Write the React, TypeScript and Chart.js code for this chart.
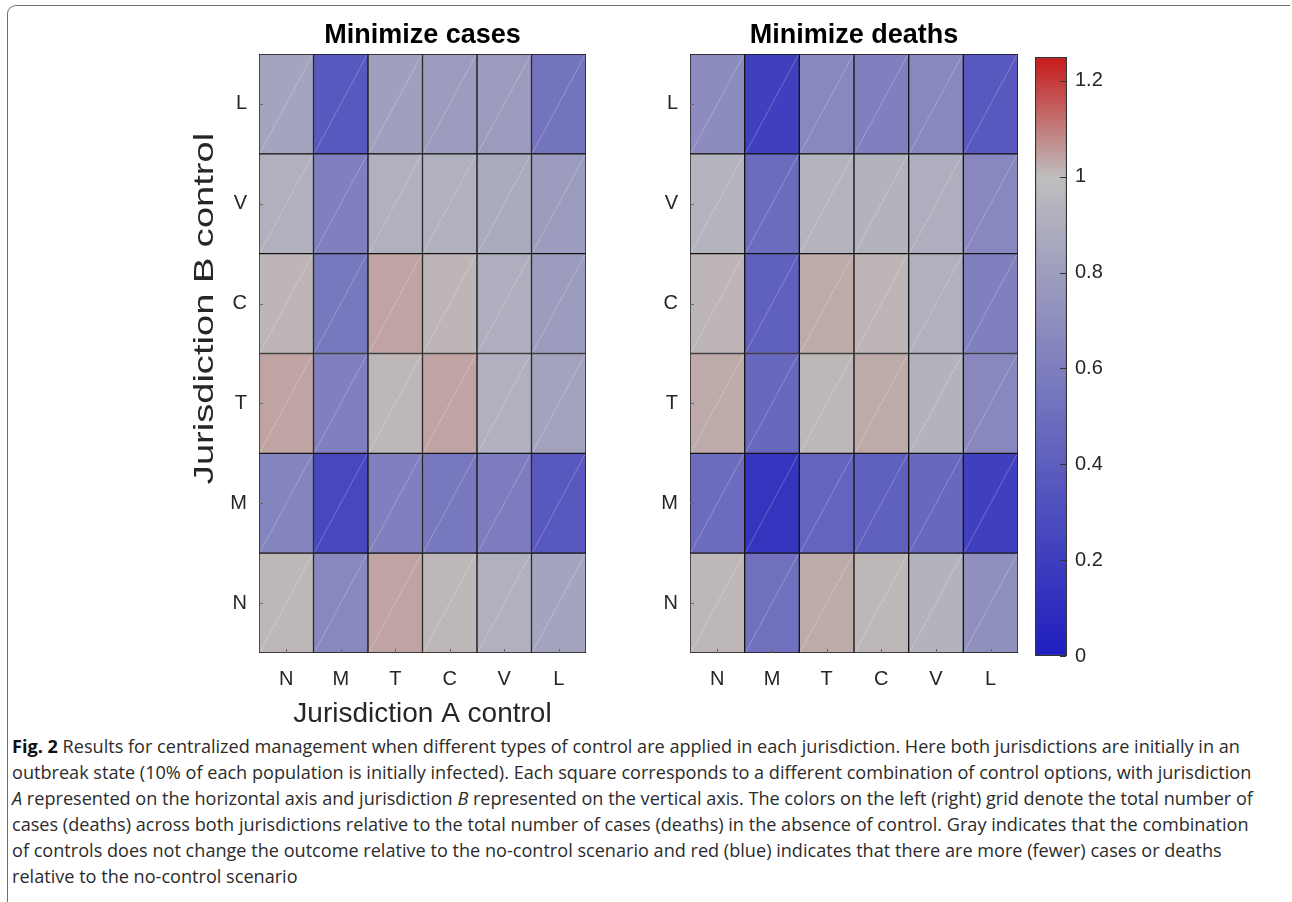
import React, { useEffect, useLayoutEffect, useRef } from 'react';
import { Chart, registerables } from 'chart.js';

Chart.register(...registerables);

// ---------------- data ----------------
const colLabels = ['N', 'M', 'T', 'C', 'V', 'L']; // jurisdiction A control (x)
const rowLabels = ['N', 'M', 'T', 'C', 'V', 'L']; // jurisdiction B control (y, bottom -> top)

// relative cases, rows bottom (N) -> top (L), columns N..L
const casesN = [1.01, 0.66, 1.04, 1.01, 0.91, 0.84];
const casesM = [0.64, 0.26, 0.61, 0.56, 0.59, 0.36];
const casesT = [1.04, 0.61, 1.01, 1.04, 0.91, 0.83];
const casesC = [1.012, 0.56, 1.04, 1.012, 0.9, 0.79];
const casesV = [0.91, 0.61, 0.91, 0.91, 0.88, 0.79];
const casesL = [0.84, 0.36, 0.81, 0.79, 0.78, 0.54];
const casesValues = [casesN, casesM, casesT, casesC, casesV, casesL];

// relative deaths
const deathsN = [1.01, 0.51, 1.03, 1.01, 0.93, 0.71];
const deathsM = [0.49, 0.14, 0.44, 0.41, 0.46, 0.21];
const deathsT = [1.03, 0.46, 1.01, 1.03, 0.93, 0.66];
const deathsC = [1.012, 0.41, 1.03, 1.012, 0.91, 0.61];
const deathsV = [0.94, 0.49, 0.94, 0.93, 0.9, 0.66];
const deathsL = [0.69, 0.21, 0.66, 0.61, 0.66, 0.36];
const deathsValues = [deathsN, deathsM, deathsT, deathsC, deathsV, deathsL];

const colorbarTicks = [0, 0.2, 0.4, 0.6, 0.8, 1, 1.2];
const colorMin = 0;
const colorMid = 1;
const colorMax = 1.25;

const captionLines = [
  [['b', 'Fig. 2'], ['', ' Results for centralized management when different types of control are applied in each jurisdiction. Here both jurisdictions are initially in an']],
  [['', 'outbreak state (10% of each population is initially infected). Each square corresponds to a different combination of control options, with jurisdiction']],
  [['i', 'A'], ['', ' represented on the horizontal axis and jurisdiction '], ['i', 'B'], ['', ' represented on the vertical axis. The colors on the left (right) grid denote the total number of']],
  [['', 'cases (deaths) across both jurisdictions relative to the total number of cases (deaths) in the absence of control. Gray indicates that the combination']],
  [['', 'of controls does not change the outcome relative to the no-control scenario and red (blue) indicates that there are more (fewer) cases or deaths']],
  [['', 'relative to the no-control scenario']],
];

// ---------------- style ----------------
const FONT = "'Liberation Sans', Arial, Helvetica, sans-serif";
const TEXT = '#262626';
const BLUE = [30, 30, 190];
const GRAY = [190, 190, 190];
const RED = [200, 25, 25];
const captionTargetWidths = [1240, 1243, 1246, 1234, 1176, 301];
const captionTop = 733;
const captionLineHeight = 26;

const clamp = (t: number) => Math.max(0, Math.min(1, t));
const mix = (a: number[], b: number[], t: number) => a.map((v, i) => Math.round(v + (b[i] - v) * t));
function colorFor(v: number) {
  const c = v <= colorMid
    ? mix(BLUE, GRAY, clamp((v - colorMin) / (colorMid - colorMin)))
    : mix(GRAY, RED, clamp((v - colorMid) / (colorMax - colorMid)));
  return `rgb(${c[0]},${c[1]},${c[2]})`;
}

// ---------------- plugins ----------------
const cellDiagonals = {
  id: 'cellDiagonals',
  afterDatasetsDraw(chart: any) {
    const ctx = chart.ctx;
    ctx.save();
    ctx.strokeStyle = 'rgba(255,255,255,0.3)';
    ctx.lineWidth = 0.8;
    chart.data.datasets.forEach((_: any, di: number) => {
      chart.getDatasetMeta(di).data.forEach((el: any) => {
        const { x, y, base, width } = el.getProps(['x', 'y', 'base', 'width'], true);
        const l = x - width / 2, r = x + width / 2;
        const t = Math.min(y, base), b = Math.max(y, base);
        ctx.beginPath();
        ctx.moveTo(l + 1, b - 1);
        ctx.lineTo(r - 1, t + 1);
        ctx.stroke();
      });
    });
    ctx.restore();
  },
};

const innerTicks = {
  id: 'innerTicks',
  afterDatasetsDraw(chart: any, _args: any, opts: any) {
    const { ctx, chartArea: a } = chart;
    const len = opts.len || 4;
    ctx.save();
    ctx.strokeStyle = opts.color || '#555';
    ctx.lineWidth = 1;
    ctx.beginPath();
    if (opts.x) {
      const s = chart.scales.x;
      s.ticks.forEach((_: any, i: number) => {
        const p = Math.round(s.getPixelForTick(i)) + 0.5;
        ctx.moveTo(p, a.bottom);
        ctx.lineTo(p, a.bottom - len);
      });
    }
    if (opts.y) {
      const s = chart.scales.y;
      s.ticks.forEach((_: any, i: number) => {
        const p = Math.round(s.getPixelForTick(i)) + 0.5;
        ctx.moveTo(a.left, p);
        ctx.lineTo(a.left + len, p);
      });
    }
    if (opts.yRight) {
      const s = chart.scales.y;
      s.ticks.forEach((_: any, i: number) => {
        const p = Math.round(s.getPixelForTick(i)) + 0.5;
        ctx.moveTo(a.right - 1, p);
        ctx.lineTo(a.right - 1 - len, p);
      });
    }
    ctx.stroke();
    ctx.restore();
  },
};

const stretchedYTitle = {
  id: 'stretchedYTitle',
  afterDraw(chart: any, _args: any, opts: any) {
    if (!opts || !opts.text) return;
    const ctx = chart.ctx;
    const s = chart.scales.y;
    const a = chart.chartArea;
    ctx.save();
    ctx.translate(s.left + opts.dx, (a.top + a.bottom) / 2 + opts.dy);
    ctx.rotate(-Math.PI / 2);
    ctx.scale(opts.stretch, 1);
    ctx.font = `${opts.size}px ${FONT}`;
    ctx.fillStyle = TEXT;
    ctx.textAlign = 'center';
    ctx.textBaseline = 'middle';
    ctx.fillText(opts.text, 0, 0);
    ctx.restore();
  },
};

// ---------------- configs ----------------
function heatmapConfig(values: number[][], title: string, padLeft: number, yWidth: number, padRight: number, withTitles: boolean): any {
  return {
    type: 'bar',
    data: {
      labels: colLabels,
      datasets: rowLabels.map((r, i) => ({
        label: r,
        data: values[i].map(() => [i, i + 1]),
        backgroundColor: values[i].map(colorFor),
        borderColor: '#151515',
        borderWidth: 1,
        borderSkipped: false,
        barPercentage: 1,
        categoryPercentage: 1,
        grouped: false,
      })),
    },
    options: {
      animation: false,
      responsive: false,
      maintainAspectRatio: false,
      events: [],
      layout: { padding: { left: padLeft, right: padRight, top: 0, bottom: 0 } },
      plugins: {
        legend: { display: false },
        tooltip: { enabled: false },
        title: {
          display: true,
          text: title,
          fullSize: false,
          color: '#000',
          font: { family: FONT, size: 27, weight: 'bold' },
          padding: { top: 19, bottom: 2.6 },
        },
        innerTicks: { x: true, y: true, len: 4, color: '#666' },
        stretchedYTitle: withTitles
          ? { text: 'Jurisdiction B control', size: 28, stretch: 1.36, dx: 25, dy: -45 }
          : {},
      },
      scales: {
        x: {
          type: 'category',
          grid: { display: false, drawTicks: false },
          border: { display: false },
          ticks: { color: TEXT, font: { family: FONT, size: 20 }, padding: 14 },
          title: {
            display: withTitles,
            text: 'Jurisdiction A control',
            color: TEXT,
            font: { family: FONT, size: 28 },
            padding: 0,
          },
          afterFit: (s: any) => { s.height = 78; },
        },
        y: {
          type: 'linear',
          min: 0,
          max: rowLabels.length,
          grid: { display: false, drawTicks: false },
          border: { display: false },
          afterBuildTicks: (s: any) => { s.ticks = rowLabels.map((_, i) => ({ value: i + 0.5 })); },
          ticks: {
            autoSkip: false,
            color: TEXT,
            font: { family: FONT, size: 20 },
            padding: 12,
            callback: (v: number) => rowLabels[Math.floor(v)],
          },
          afterFit: (s: any) => { s.width = yWidth; },
        },
      },
    },
    plugins: [cellDiagonals, innerTicks, stretchedYTitle],
  };
}

function colorbarConfig(): any {
  return {
    type: 'bar',
    data: {
      labels: [''],
      datasets: [{
        data: [[colorMin, colorMax]],
        backgroundColor: (c: any) => {
          const chart = c.chart;
          if (!chart.chartArea) return GRAY;
          const ys = chart.scales.y;
          const g = chart.ctx.createLinearGradient(0, ys.getPixelForValue(colorMin), 0, ys.getPixelForValue(colorMax));
          g.addColorStop(0, colorFor(colorMin));
          g.addColorStop((colorMid - colorMin) / (colorMax - colorMin), colorFor(colorMid));
          g.addColorStop(1, colorFor(colorMax));
          return g;
        },
        borderColor: '#333',
        borderWidth: 1.5,
        borderSkipped: false,
        barPercentage: 1,
        categoryPercentage: 1,
      }],
    },
    options: {
      animation: false,
      responsive: false,
      maintainAspectRatio: false,
      events: [],
      layout: { padding: { left: 35, right: 0, top: 57, bottom: 75 } },
      plugins: {
        legend: { display: false },
        tooltip: { enabled: false },
        innerTicks: { yRight: true, len: 6, color: '#333' },
      },
      scales: {
        x: { display: false },
        y: {
          position: 'right',
          min: colorMin,
          max: colorMax,
          grid: { display: false, drawTicks: false },
          border: { display: false },
          afterBuildTicks: (s: any) => { s.ticks = colorbarTicks.map((v) => ({ value: v })); },
          ticks: {
            autoSkip: false,
            color: TEXT,
            font: { family: FONT, size: 20 },
            padding: 8,
            callback: (v: number) => String(v),
          },
          afterFit: (s: any) => { s.width = 83; },
        },
      },
    },
    plugins: [innerTicks],
  };
}

// ---------------- components ----------------
function ChartCanvas({ left, top, width, height, build }: { left: number; top: number; width: number; height: number; build: () => any }) {
  const ref = useRef<HTMLCanvasElement>(null);
  useEffect(() => {
    const chart = new Chart(ref.current as HTMLCanvasElement, build());
    return () => chart.destroy();
  }, []);
  return (
    <canvas
      ref={ref}
      width={width}
      height={height}
      style={{ position: 'absolute', left, top, width, height }}
    />
  );
}

function Caption() {
  const refs = useRef<(HTMLSpanElement | null)[]>([]);
  useLayoutEffect(() => {
    const els = refs.current.filter(Boolean) as HTMLSpanElement[];
    els.forEach((e) => { e.style.transform = 'none'; });
    const natural = els.map((e) => e.getBoundingClientRect().width);
    const total = natural.reduce((a, b) => a + b, 0);
    const target = captionTargetWidths.reduce((a, b) => a + b, 0);
    const k = total > 0 ? target / total : 1;
    els.forEach((e) => { e.style.transform = `scaleX(${k})`; });
  }, []);
  return (
    <>
      {captionLines.map((parts, i) => (
        <div
          key={i}
          style={{
            position: 'absolute',
            left: 12,
            top: captionTop + i * captionLineHeight,
            height: captionLineHeight,
            lineHeight: `${captionLineHeight}px`,
            whiteSpace: 'nowrap',
            fontFamily: "'Open Sans', 'Noto Sans', sans-serif",
            fontSize: 17.5,
            color: '#2b2b2b',
          }}
        >
          <span
            ref={(el) => { refs.current[i] = el; }}
            style={{ display: 'inline-block', transformOrigin: 'left center' }}
          >
            {parts.map(([kind, txt], j) =>
              kind === 'b' ? <b key={j} style={{ color: '#111' }}>{txt}</b>
                : kind === 'i' ? <i key={j}>{txt}</i>
                  : <span key={j}>{txt}</span>
            )}
          </span>
        </div>
      ))}
    </>
  );
}

export default function App() {
  return (
    <div style={{ position: 'absolute', left: 0, top: 0, width: 1292, height: 902, overflow: 'hidden', background: '#fff' }}>
      <div
        style={{
          position: 'absolute',
          left: 7,
          top: 5,
          width: 1283,
          height: 897,
          borderTop: '1.5px solid #707070',
          borderLeft: '1.5px solid #707070',
          borderTopLeftRadius: 9,
          boxSizing: 'border-box',
        }}
      />
      <ChartCanvas left={0} top={0} width={600} height={731}
        build={() => heatmapConfig(casesValues, 'Minimize cases', 180, 79, 14, true)} />
      <ChartCanvas left={600} top={0} width={430} height={731}
        build={() => heatmapConfig(deathsValues, 'Minimize deaths', 40, 50, 12, false)} />
      <ChartCanvas left={1000} top={0} width={150} height={731} build={colorbarConfig} />
      <Caption />
    </div>
  );
}
